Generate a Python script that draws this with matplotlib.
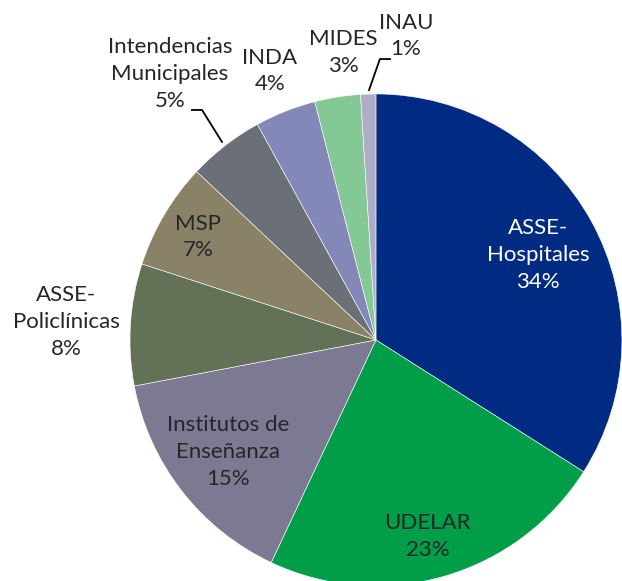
import numpy as np
import matplotlib.pyplot as plt

plt.rcParams['font.family'] = ['Lato', 'DejaVu Sans']

labels = ["ASSE-\nHospitales", "UDELAR", "Institutos de\nEnseñanza", "ASSE-\nPoliclínicas",
          "MSP", "Intendencias\nMunicipales", "INDA", "MIDES", "INAU"]
values = [34, 23, 15, 8, 7, 5, 4, 3, 1]
colors = ["#002B82", "#009E48", "#7C7A93", "#637256", "#8A8266",
          "#6B6F78", "#8488B8", "#84C896", "#AEACC6"]
text_colors = ["white"] + ["#262626"] * 8

# label positions in radius units (x, y) relative to center
label_pos = [(0.66, 0.345), (0.211, -0.80), (-0.60, -0.455), (-1.26, 0.073),
             (-0.724, 0.419), (-0.837, 1.081), (-0.431, 1.093), (-0.134, 1.17),
             (0.122, 1.236)]

fig = plt.figure(figsize=(6.22, 5.81), dpi=100)
ax = fig.add_axes([0, 0, 1, 1])
ax.pie(values, colors=colors, startangle=90, counterclock=False, radius=1.0,
       wedgeprops=dict(edgecolor="white", linewidth=0.4))

for lab, v, (x, y), tc in zip(labels, values, label_pos, text_colors):
    ax.text(x, y, f"{lab}\n{v}%", ha="center", va="center", color=tc,
            fontsize=16, linespacing=1.42)

# leader lines
ax.plot([-0.748, -0.707, -0.626], [0.935, 0.935, 0.805], color="black", lw=1.3)
ax.plot([0.057, 0.016, -0.028], [1.142, 1.142, 1.016], color="black", lw=1.3)

ax.set_xlim(-1.528, 1.0)
ax.set_ylim(-0.98, 1.382)
ax.set_aspect("equal")
ax.axis("off")
fig.savefig("out.png", dpi=100)
